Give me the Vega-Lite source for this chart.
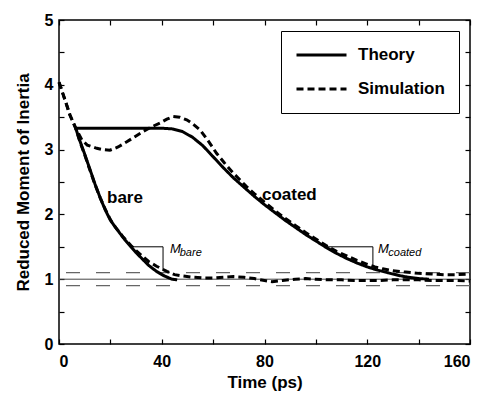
{
  "$schema": "https://vega.github.io/schema/vega-lite/v6.json",
  "width": 411,
  "height": 324,
  "autosize": {"type": "none"},
  "padding": {"left": 59, "top": 20, "right": 25, "bottom": 53},
  "config": {
    "view": {"stroke": "black", "strokeWidth": 1.5},
    "font": "Liberation Sans",
    "axis": {
      "labelFont": "Liberation Sans", "labelFontWeight": "bold", "labelFontSize": 16, "labelColor": "black",
      "titleFont": "Liberation Sans", "titleFontWeight": "bold", "titleFontSize": 17, "titleColor": "black",
      "tickColor": "black", "tickWidth": 1.2, "domain": false, "grid": false
    }
  },
  "datasets": {
    "curves": [
      {"model": "Theory", "series": "bare", "t": 6.5, "m": 3.33},
      {"model": "Theory", "series": "bare", "t": 8, "m": 3.15},
      {"model": "Theory", "series": "bare", "t": 10, "m": 2.93},
      {"model": "Theory", "series": "bare", "t": 12, "m": 2.70},
      {"model": "Theory", "series": "bare", "t": 14, "m": 2.47},
      {"model": "Theory", "series": "bare", "t": 16, "m": 2.26},
      {"model": "Theory", "series": "bare", "t": 18, "m": 2.07},
      {"model": "Theory", "series": "bare", "t": 20, "m": 1.91},
      {"model": "Theory", "series": "bare", "t": 22, "m": 1.80},
      {"model": "Theory", "series": "bare", "t": 25, "m": 1.64},
      {"model": "Theory", "series": "bare", "t": 28, "m": 1.50},
      {"model": "Theory", "series": "bare", "t": 30, "m": 1.41},
      {"model": "Theory", "series": "bare", "t": 32, "m": 1.33},
      {"model": "Theory", "series": "bare", "t": 35, "m": 1.21},
      {"model": "Theory", "series": "bare", "t": 38, "m": 1.12},
      {"model": "Theory", "series": "bare", "t": 41, "m": 1.05},
      {"model": "Theory", "series": "bare", "t": 44, "m": 1.00},
      {"model": "Theory", "series": "bare", "t": 46, "m": 0.99},

      {"model": "Theory", "series": "coated", "t": 6.5, "m": 3.33},
      {"model": "Theory", "series": "coated", "t": 40, "m": 3.33},
      {"model": "Theory", "series": "coated", "t": 44, "m": 3.32},
      {"model": "Theory", "series": "coated", "t": 48, "m": 3.28},
      {"model": "Theory", "series": "coated", "t": 52, "m": 3.19},
      {"model": "Theory", "series": "coated", "t": 56, "m": 3.06},
      {"model": "Theory", "series": "coated", "t": 60, "m": 2.89},
      {"model": "Theory", "series": "coated", "t": 64, "m": 2.72},
      {"model": "Theory", "series": "coated", "t": 68, "m": 2.56},
      {"model": "Theory", "series": "coated", "t": 72, "m": 2.42},
      {"model": "Theory", "series": "coated", "t": 76, "m": 2.28},
      {"model": "Theory", "series": "coated", "t": 80, "m": 2.15},
      {"model": "Theory", "series": "coated", "t": 84, "m": 2.03},
      {"model": "Theory", "series": "coated", "t": 88, "m": 1.91},
      {"model": "Theory", "series": "coated", "t": 92, "m": 1.80},
      {"model": "Theory", "series": "coated", "t": 96, "m": 1.69},
      {"model": "Theory", "series": "coated", "t": 100, "m": 1.59},
      {"model": "Theory", "series": "coated", "t": 104, "m": 1.49},
      {"model": "Theory", "series": "coated", "t": 108, "m": 1.40},
      {"model": "Theory", "series": "coated", "t": 112, "m": 1.32},
      {"model": "Theory", "series": "coated", "t": 116, "m": 1.25},
      {"model": "Theory", "series": "coated", "t": 120, "m": 1.19},
      {"model": "Theory", "series": "coated", "t": 124, "m": 1.14},
      {"model": "Theory", "series": "coated", "t": 128, "m": 1.10},
      {"model": "Theory", "series": "coated", "t": 132, "m": 1.06},
      {"model": "Theory", "series": "coated", "t": 136, "m": 1.03},
      {"model": "Theory", "series": "coated", "t": 140, "m": 1.01},
      {"model": "Theory", "series": "coated", "t": 144, "m": 1.00},

      {"model": "Simulation", "series": "bare", "t": 0, "m": 4.04},
      {"model": "Simulation", "series": "bare", "t": 2.3, "m": 3.77},
      {"model": "Simulation", "series": "bare", "t": 4.3, "m": 3.53},
      {"model": "Simulation", "series": "bare", "t": 6.5, "m": 3.33},
      {"model": "Simulation", "series": "bare", "t": 8, "m": 3.14},
      {"model": "Simulation", "series": "bare", "t": 10, "m": 2.92},
      {"model": "Simulation", "series": "bare", "t": 12, "m": 2.69},
      {"model": "Simulation", "series": "bare", "t": 14, "m": 2.46},
      {"model": "Simulation", "series": "bare", "t": 16, "m": 2.26},
      {"model": "Simulation", "series": "bare", "t": 18, "m": 2.08},
      {"model": "Simulation", "series": "bare", "t": 20, "m": 1.92},
      {"model": "Simulation", "series": "bare", "t": 22, "m": 1.80},
      {"model": "Simulation", "series": "bare", "t": 25, "m": 1.65},
      {"model": "Simulation", "series": "bare", "t": 28, "m": 1.52},
      {"model": "Simulation", "series": "bare", "t": 30, "m": 1.44},
      {"model": "Simulation", "series": "bare", "t": 32, "m": 1.37},
      {"model": "Simulation", "series": "bare", "t": 35, "m": 1.27},
      {"model": "Simulation", "series": "bare", "t": 38, "m": 1.20},
      {"model": "Simulation", "series": "bare", "t": 40, "m": 1.16},
      {"model": "Simulation", "series": "bare", "t": 42, "m": 1.12},
      {"model": "Simulation", "series": "bare", "t": 45, "m": 1.07},
      {"model": "Simulation", "series": "bare", "t": 48, "m": 1.05},
      {"model": "Simulation", "series": "bare", "t": 52, "m": 1.03},
      {"model": "Simulation", "series": "bare", "t": 56, "m": 1.02},
      {"model": "Simulation", "series": "bare", "t": 60, "m": 1.02},
      {"model": "Simulation", "series": "bare", "t": 64, "m": 1.03},
      {"model": "Simulation", "series": "bare", "t": 68, "m": 1.04},
      {"model": "Simulation", "series": "bare", "t": 72, "m": 1.03},
      {"model": "Simulation", "series": "bare", "t": 76, "m": 1.01},
      {"model": "Simulation", "series": "bare", "t": 80, "m": 0.98},
      {"model": "Simulation", "series": "bare", "t": 83, "m": 0.96},
      {"model": "Simulation", "series": "bare", "t": 87, "m": 0.98},
      {"model": "Simulation", "series": "bare", "t": 92, "m": 1.00},
      {"model": "Simulation", "series": "bare", "t": 96, "m": 1.01},
      {"model": "Simulation", "series": "bare", "t": 100, "m": 1.00},
      {"model": "Simulation", "series": "bare", "t": 105, "m": 0.99},
      {"model": "Simulation", "series": "bare", "t": 110, "m": 0.99},
      {"model": "Simulation", "series": "bare", "t": 115, "m": 0.98},
      {"model": "Simulation", "series": "bare", "t": 120, "m": 0.98},
      {"model": "Simulation", "series": "bare", "t": 125, "m": 0.98},
      {"model": "Simulation", "series": "bare", "t": 130, "m": 0.99},
      {"model": "Simulation", "series": "bare", "t": 135, "m": 0.99},
      {"model": "Simulation", "series": "bare", "t": 140, "m": 0.99},
      {"model": "Simulation", "series": "bare", "t": 145, "m": 0.98},
      {"model": "Simulation", "series": "bare", "t": 150, "m": 0.98},
      {"model": "Simulation", "series": "bare", "t": 155, "m": 0.98},
      {"model": "Simulation", "series": "bare", "t": 160, "m": 0.97},

      {"model": "Simulation", "series": "coated", "t": 0, "m": 4.04},
      {"model": "Simulation", "series": "coated", "t": 2.3, "m": 3.77},
      {"model": "Simulation", "series": "coated", "t": 4.3, "m": 3.53},
      {"model": "Simulation", "series": "coated", "t": 6.5, "m": 3.33},
      {"model": "Simulation", "series": "coated", "t": 8.9, "m": 3.15},
      {"model": "Simulation", "series": "coated", "t": 11, "m": 3.07},
      {"model": "Simulation", "series": "coated", "t": 14.7, "m": 3.02},
      {"model": "Simulation", "series": "coated", "t": 17, "m": 3.00},
      {"model": "Simulation", "series": "coated", "t": 19.8, "m": 2.99},
      {"model": "Simulation", "series": "coated", "t": 23, "m": 3.04},
      {"model": "Simulation", "series": "coated", "t": 26.4, "m": 3.12},
      {"model": "Simulation", "series": "coated", "t": 30, "m": 3.21},
      {"model": "Simulation", "series": "coated", "t": 32.8, "m": 3.28},
      {"model": "Simulation", "series": "coated", "t": 36, "m": 3.35},
      {"model": "Simulation", "series": "coated", "t": 39.3, "m": 3.41},
      {"model": "Simulation", "series": "coated", "t": 42, "m": 3.47},
      {"model": "Simulation", "series": "coated", "t": 44.5, "m": 3.51},
      {"model": "Simulation", "series": "coated", "t": 47, "m": 3.50},
      {"model": "Simulation", "series": "coated", "t": 49.7, "m": 3.46},
      {"model": "Simulation", "series": "coated", "t": 52, "m": 3.40},
      {"model": "Simulation", "series": "coated", "t": 55, "m": 3.30},
      {"model": "Simulation", "series": "coated", "t": 58, "m": 3.14},
      {"model": "Simulation", "series": "coated", "t": 61.4, "m": 2.94},
      {"model": "Simulation", "series": "coated", "t": 64.5, "m": 2.79},
      {"model": "Simulation", "series": "coated", "t": 67.8, "m": 2.64},
      {"model": "Simulation", "series": "coated", "t": 70.5, "m": 2.53},
      {"model": "Simulation", "series": "coated", "t": 73, "m": 2.43},
      {"model": "Simulation", "series": "coated", "t": 76, "m": 2.32},
      {"model": "Simulation", "series": "coated", "t": 80, "m": 2.19},
      {"model": "Simulation", "series": "coated", "t": 84, "m": 2.06},
      {"model": "Simulation", "series": "coated", "t": 88, "m": 1.94},
      {"model": "Simulation", "series": "coated", "t": 92, "m": 1.83},
      {"model": "Simulation", "series": "coated", "t": 96, "m": 1.72},
      {"model": "Simulation", "series": "coated", "t": 100, "m": 1.62},
      {"model": "Simulation", "series": "coated", "t": 104, "m": 1.52},
      {"model": "Simulation", "series": "coated", "t": 108, "m": 1.43},
      {"model": "Simulation", "series": "coated", "t": 112, "m": 1.36},
      {"model": "Simulation", "series": "coated", "t": 116, "m": 1.29},
      {"model": "Simulation", "series": "coated", "t": 120, "m": 1.23},
      {"model": "Simulation", "series": "coated", "t": 123, "m": 1.19},
      {"model": "Simulation", "series": "coated", "t": 126, "m": 1.16},
      {"model": "Simulation", "series": "coated", "t": 130, "m": 1.13},
      {"model": "Simulation", "series": "coated", "t": 135, "m": 1.11},
      {"model": "Simulation", "series": "coated", "t": 140, "m": 1.09},
      {"model": "Simulation", "series": "coated", "t": 145, "m": 1.08},
      {"model": "Simulation", "series": "coated", "t": 150, "m": 1.07},
      {"model": "Simulation", "series": "coated", "t": 155, "m": 1.07},
      {"model": "Simulation", "series": "coated", "t": 160, "m": 1.08}
    ],
    "triangles": [
      {"tri": "bare", "k": 0, "t": 27.6, "m": 1.5},
      {"tri": "bare", "k": 1, "t": 40.5, "m": 1.5},
      {"tri": "bare", "k": 2, "t": 40.5, "m": 1.14},
      {"tri": "coated", "k": 0, "t": 103.5, "m": 1.5},
      {"tri": "coated", "k": 1, "t": 122.2, "m": 1.5},
      {"tri": "coated", "k": 2, "t": 122.2, "m": 1.2}
    ]
  },
  "layer": [
    {
      "data": {"values": [{"ref": 1}]},
      "mark": {"type": "rule", "color": "#444", "strokeWidth": 1},
      "encoding": {
        "y": {"field": "ref", "type": "quantitative", "scale": {"domain": [0, 5], "nice": false},
          "axis": {"orient": "left", "title": "Reduced Moment of Inertia", "values": [0, 0.5, 1, 1.5, 2, 2.5, 3, 3.5, 4, 4.5, 5],
            "labelExpr": "datum.value % 1 == 0 ? format(datum.value, 'd') : ''", "tickSize": -5, "labelPadding": 11, "titlePadding": 12}}
      }
    },
    {
      "data": {"values": [{"ref": 0.9}, {"ref": 1.1}]},
      "mark": {"type": "rule", "color": "#666", "strokeWidth": 1.2, "strokeDash": [14, 16]},
      "encoding": {
        "y": {"field": "ref", "type": "quantitative",
          "axis": {"orient": "right", "title": null, "labels": false, "values": [0, 0.5, 1, 1.5, 2, 2.5, 3, 3.5, 4, 4.5, 5], "tickSize": -5}}
      }
    },
    {
      "data": {"name": "curves"},
      "mark": {"type": "line", "color": "black", "strokeWidth": 3},
      "encoding": {
        "x": {"field": "t", "type": "quantitative", "scale": {"domain": [0, 160], "nice": false},
          "axis": {"orient": "bottom", "title": "Time (ps)", "values": [0, 20, 40, 60, 80, 100, 120, 140, 160],
            "labelExpr": "datum.value % 40 == 0 ? datum.label : ''", "tickSize": -5, "labelPadding": 14, "titlePadding": 5}},
        "y": {"field": "m", "type": "quantitative", "axis": null},
        "detail": {"field": "series"},
        "strokeDash": {"field": "model", "type": "nominal",
          "scale": {"domain": ["Theory", "Simulation"], "range": [[1, 0], [7, 4]]},
          "legend": {"title": null, "orient": "top-right", "offset": 11, "strokeColor": "black",
            "fillColor": "white", "padding": 14, "symbolType": "stroke", "symbolSize": 2500, "symbolStrokeWidth": 3,
            "symbolStrokeColor": "black", "clipHeight": 20, "rowPadding": 14, "labelOffset": 10,
            "labelFont": "Liberation Sans", "labelFontWeight": "bold", "labelFontSize": 17, "labelColor": "black"}}
      }
    },
    {
      "data": {"name": "triangles"},
      "mark": {"type": "line", "color": "black", "strokeWidth": 1},
      "encoding": {
        "x": {"field": "t", "type": "quantitative",
          "axis": {"orient": "top", "title": null, "labels": false, "values": [0, 20, 40, 60, 80, 100, 120, 140, 160], "tickSize": -5}},
        "y": {"field": "m", "type": "quantitative", "axis": null},
        "detail": {"field": "tri"},
        "order": {"field": "k"}
      }
    },
    {
      "data": {"values": [{"label": "bare", "t": 18.7, "m": 2.18}, {"label": "coated", "t": 79, "m": 2.22}]},
      "mark": {"type": "text", "align": "left", "baseline": "alphabetic", "font": "Liberation Sans", "fontWeight": "bold", "fontSize": 17, "color": "black"},
      "encoding": {
        "x": {"field": "t", "type": "quantitative", "axis": null},
        "y": {"field": "m", "type": "quantitative", "axis": null},
        "text": {"field": "label"}
      }
    },
    {
      "data": {"values": [{"label": "M", "t": 43.2, "m": 1.40}, {"label": "M", "t": 124.2, "m": 1.40}]},
      "mark": {"type": "text", "align": "left", "baseline": "alphabetic", "font": "Liberation Sans", "fontStyle": "italic", "fontSize": 13, "color": "black"},
      "encoding": {
        "x": {"field": "t", "type": "quantitative", "axis": null},
        "y": {"field": "m", "type": "quantitative", "axis": null},
        "text": {"field": "label"}
      }
    },
    {
      "data": {"values": [{"label": "bare", "t": 47.0, "m": 1.36}, {"label": "coated", "t": 128.2, "m": 1.36}]},
      "mark": {"type": "text", "align": "left", "baseline": "alphabetic", "font": "Liberation Sans", "fontStyle": "italic", "fontSize": 11, "color": "black"},
      "encoding": {
        "x": {"field": "t", "type": "quantitative", "axis": null},
        "y": {"field": "m", "type": "quantitative", "axis": null},
        "text": {"field": "label"}
      }
    }
  ]
}
